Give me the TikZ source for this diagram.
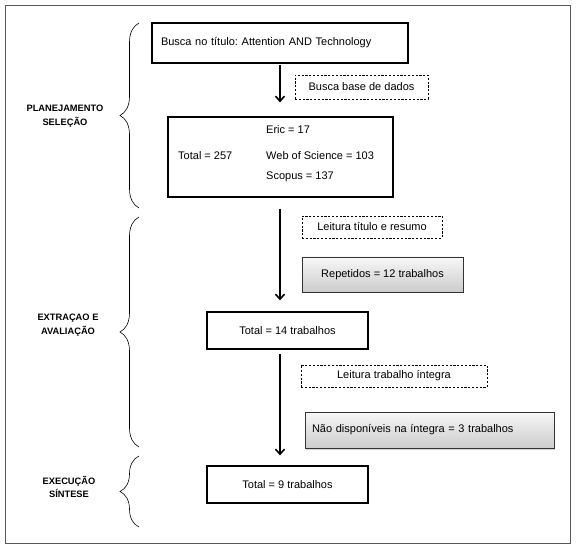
\documentclass[tikz,border=0pt]{standalone}
\usepackage{fontspec}
\setmainfont{Liberation Sans}
\usetikzlibrary{arrows.meta,decorations.pathreplacing,shadows,calc}
\frenchspacing
\begin{document}
\begin{tikzpicture}[x=1pt,y=-1pt,
  mainbox/.style={draw=black,line width=1.3pt,fill=white,inner sep=0pt,font=\fontsize{11}{13}\selectfont},
  dashbox/.style={draw=black,line width=0.6pt,dash pattern=on 2.2pt off 1.6pt,inner sep=0pt,font=\fontsize{11}{13}\selectfont},
  graybox/.style={draw=black!80,line width=0.8pt,top color=gray!6,bottom color=gray!40,inner sep=0pt,
     drop shadow={opacity=0.35,shadow xshift=1.2pt,shadow yshift=-1.5pt},font=\fontsize{11}{13}\selectfont},
  txt/.style={inner sep=0pt,font=\fontsize{11}{13}\selectfont},
  phase/.style={inner sep=0pt,align=center,font=\bfseries\fontsize{9.3}{13.5}\selectfont},
  flow/.style={line width=1.6pt,-{Straight Barb[length=5pt,width=9pt,line width=1.6pt]}},
  curly/.style={decorate,decoration={brace,amplitude=19pt,aspect=0.5},line width=0.6pt}
]
\useasboundingbox (0,0) rectangle (576,548);
\draw[draw=black!65,line width=1pt] (5.5,5.5) rectangle (570.5,543.5);

% boxes
\node[mainbox,minimum width=256pt,minimum height=40pt,text width=238pt,align=left] (b1) at (280,43) {Busca no título: Attention AND Technology};
\node[dashbox,minimum width=133pt,minimum height=24pt] (d1) at (361.5,87) {Busca base de dados};
\node[mainbox,minimum width=225pt,minimum height=80pt] (b2) at (280.5,157) {};
\node[txt,anchor=west] (eric) at (266,130) {Eric = 17};
\node[txt,anchor=west] (tot) at (178,156) {Total = 257};
\node[txt,anchor=west] (wos) at (266,156) {Web of Science = 103};
\node[txt,anchor=west] (sco) at (266,177) {Scopus = 137};

\node[dashbox,minimum width=140pt,minimum height=22pt] (d2) at (372,227) {Leitura título e resumo};
\node[graybox,minimum width=161pt,minimum height=35pt] (g1) at (382.5,274.5) {Repetidos = 12 trabalhos};
\node[mainbox,minimum width=161pt,minimum height=37pt] (t14) at (287.5,330.5) {Total = 14 trabalhos};
\node[dashbox,minimum width=186pt,minimum height=22pt] (d3) at (394,376) {Leitura trabalho íntegra};
\node[graybox,minimum width=249pt,minimum height=36pt,text width=235pt,align=left] (g2) at (429.5,430) {Não disponíveis na íntegra = 3 trabalhos};
\node[mainbox,minimum width=161pt,minimum height=37pt] (t9) at (287.5,484.5) {Total = 9 trabalhos};

% arrows
\draw[flow,shorten <=1pt,shorten >=14pt] (b1.south) -- (b1.south |- b2.north);
\draw[flow,shorten <=11pt,shorten >=11pt] (b1.south |- b2.south) -- (b1.south |- t14.north);
\draw[flow,shorten <=4pt,shorten >=10pt] (b1.south |- t14.south) -- (b1.south |- t9.north);

% braces
\coordinate (br1a) at (139,208);
\coordinate (br1b) at (139,23);
\coordinate (br2a) at (139,447);
\coordinate (br2b) at (139,217);
\coordinate (br3a) at (139,527);
\coordinate (br3b) at (139,456);
\draw[curly] (br1a) -- (br1b);
\draw[curly] (br2a) -- (br2b);
\draw[curly] (br3a) -- (br3b);

% phase labels
\node[phase] (p1) at (65,116) {PLANEJAMENTO\\SELEÇÃO};
\node[phase] (p2) at (68,325) {EXTRAÇAO E\\AVALIAÇÃO};
\node[phase] (p3) at (69,487) {EXECUÇÃO\\SÍNTESE};
\end{tikzpicture}
\end{document}
